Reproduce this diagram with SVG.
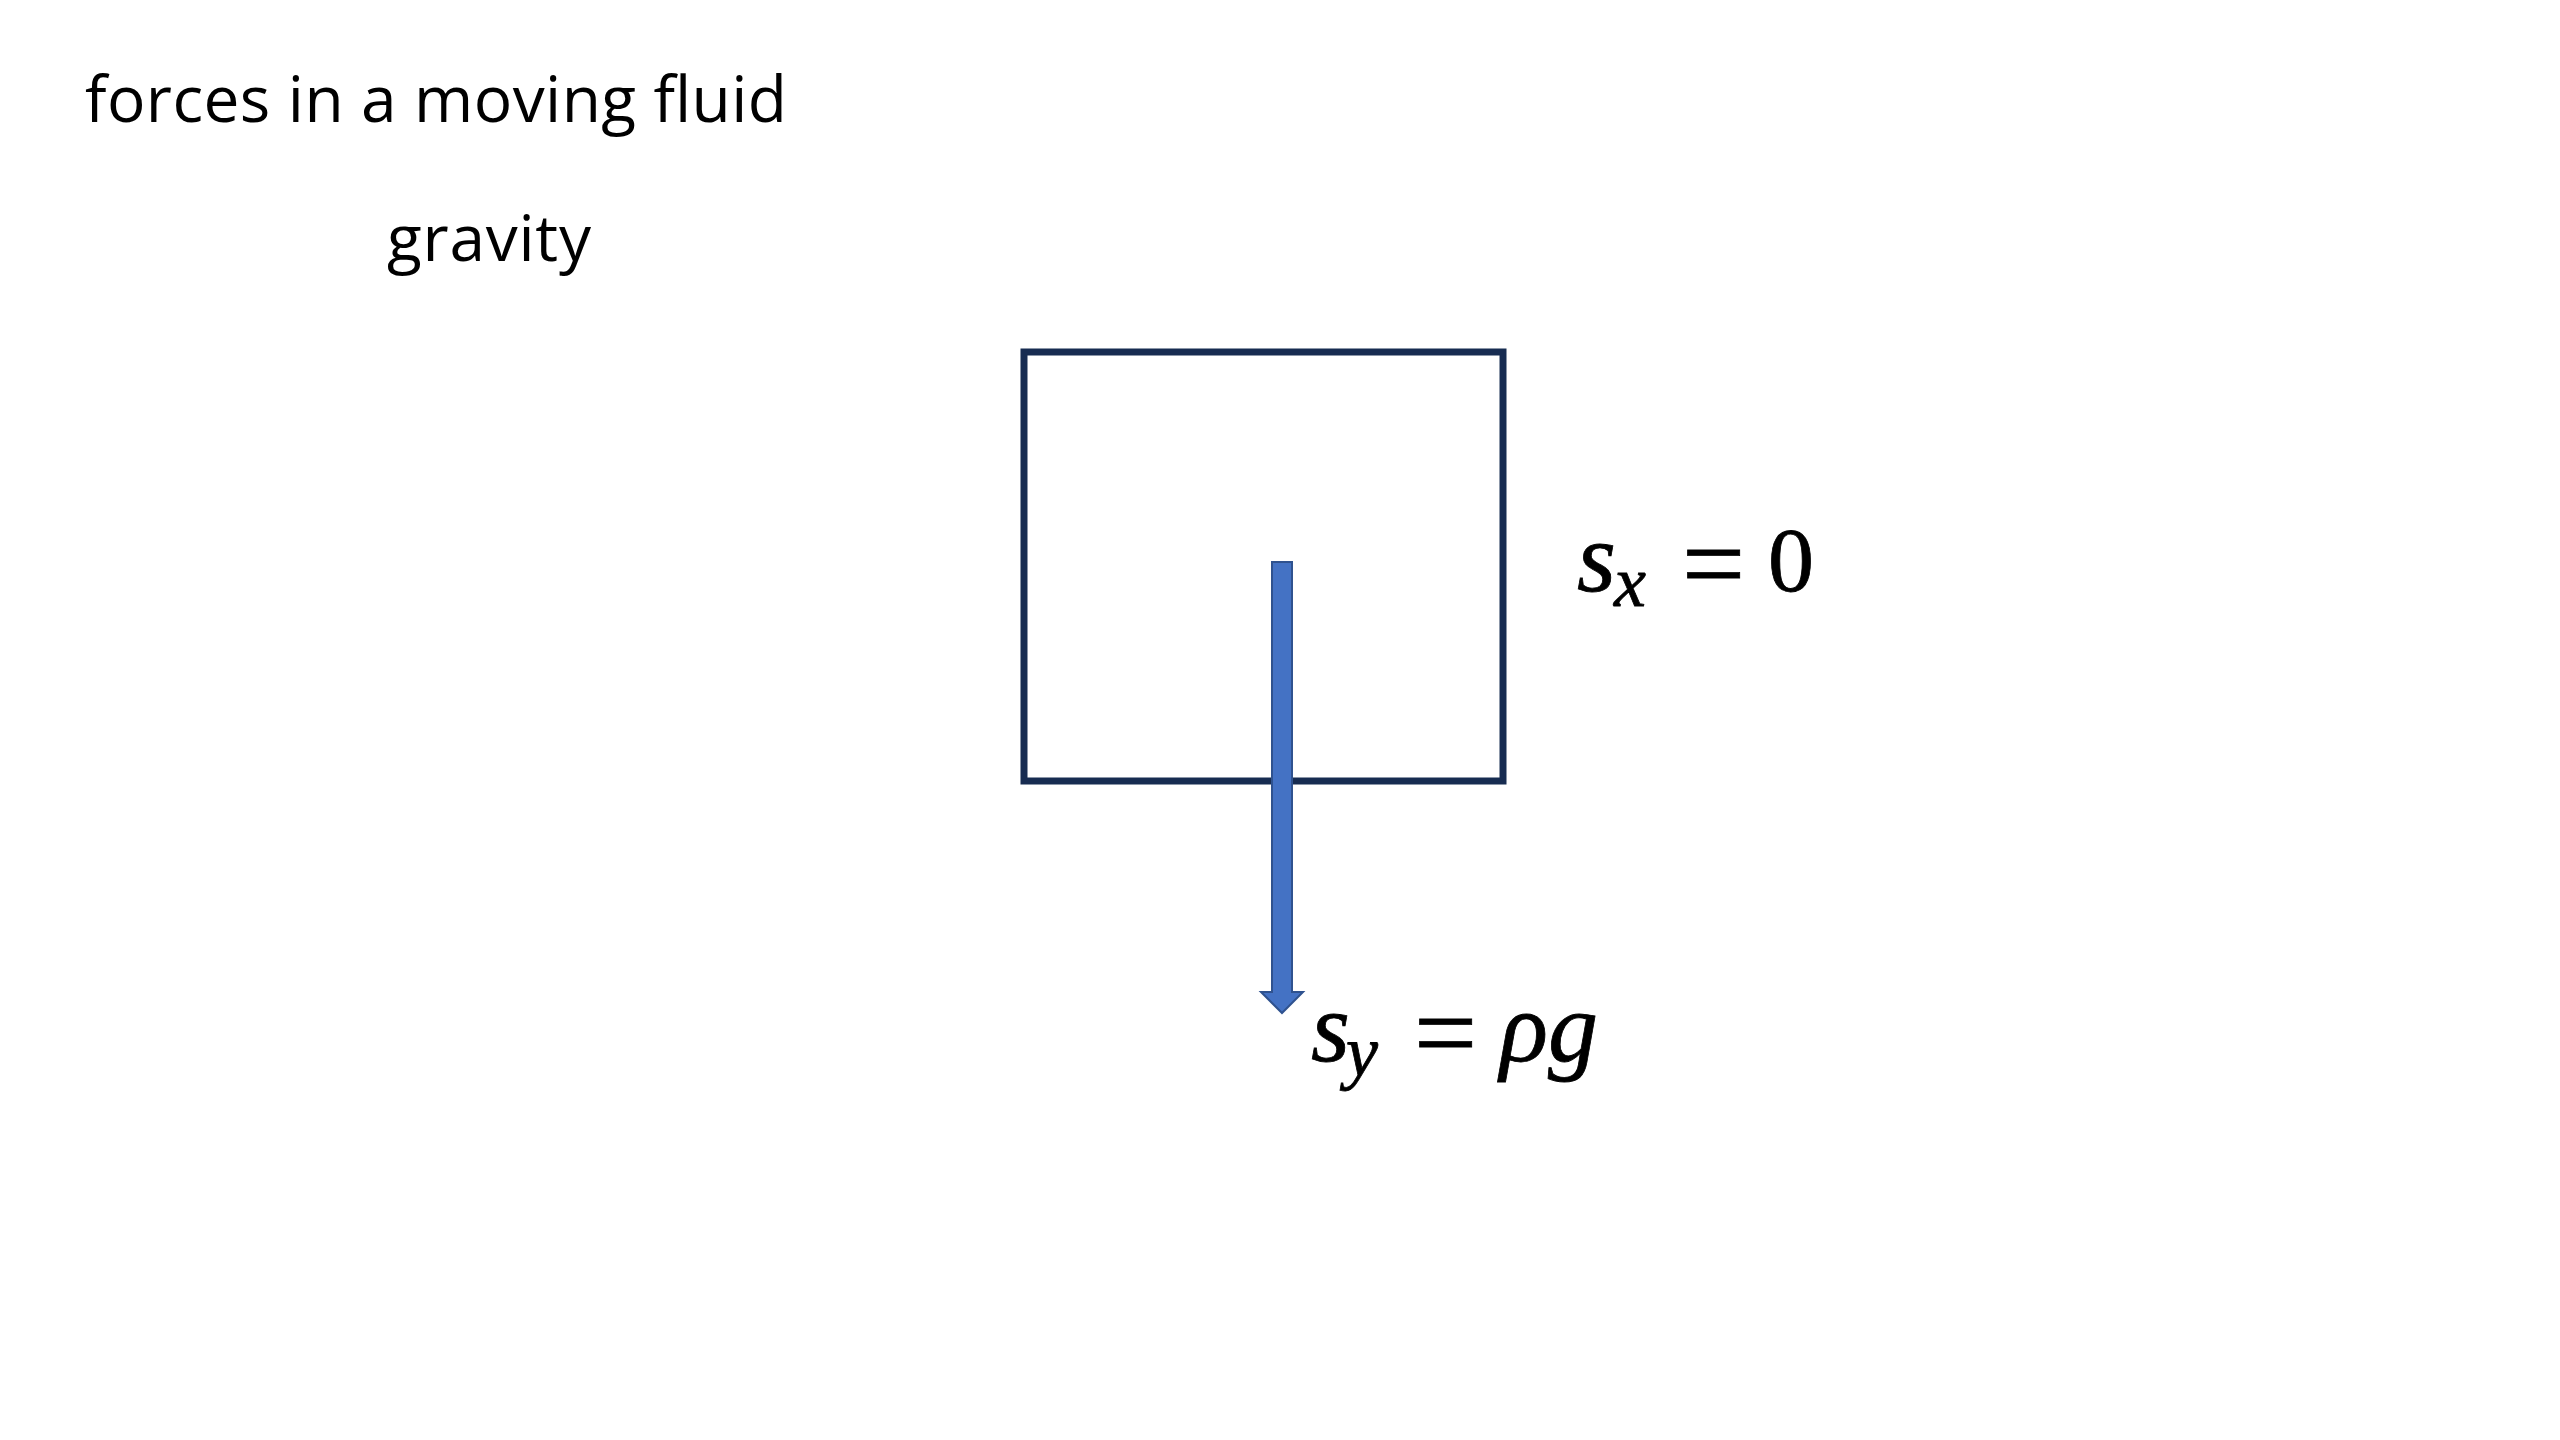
<svg xmlns="http://www.w3.org/2000/svg" width="2560" height="1440" viewBox="0 0 2560 1440">
  <style>
    .label { font-family: "Open Sans", "Noto Sans", sans-serif; font-size: 64px; fill: #000000; }
    .math { font-family: "Liberation Serif", "DejaVu Serif", serif; fill: #000000; stroke: #000000; stroke-width: 0.8; }
    .it { font-style: italic; }
    .box { fill: none; stroke: #172C51; stroke-width: 7; }
    .force { fill: #4472C4; stroke: #2F528F; stroke-width: 2; stroke-linejoin: miter; }
  </style>
  <rect x="0" y="0" width="2560" height="1440" fill="#FFFFFF"/>

  <g id="title">
    <text class="label" x="85" y="122" textLength="702">forces in a moving fluid</text>
  </g>
  <g id="gravity-label">
    <text class="label" x="387" y="261" textLength="204">gravity</text>
  </g>

  <g id="fluid-element">
    <rect class="box" x="1024" y="352" width="479" height="429"/>
  </g>

  <g id="sx-label">
    <text class="math it" x="1577" y="591" font-size="100">s</text>
    <text class="math it" x="1614" y="606" font-size="72">x</text>
    <text class="math" x="1682" y="601" font-size="112">=</text>
    <text class="math" x="1768" y="591" font-size="92">0</text>
  </g>

  <g id="sy-label">
    <text class="math it" x="1311" y="1061" font-size="100">s</text>
    <text class="math it" x="1346" y="1076" font-size="72">y</text>
    <text class="math" x="1414" y="1070" font-size="112">=</text>
    <text class="math it" x="1500" y="1061" font-size="100">ρ</text>
    <text class="math it" x="1548" y="1061" font-size="100">g</text>
  </g>

  <g id="connectors">
    <path class="force" d="M1272,562 L1292,562 L1292,992 L1303,992 L1282,1013 L1261,992 L1272,992 Z"/>
  </g>
</svg>
